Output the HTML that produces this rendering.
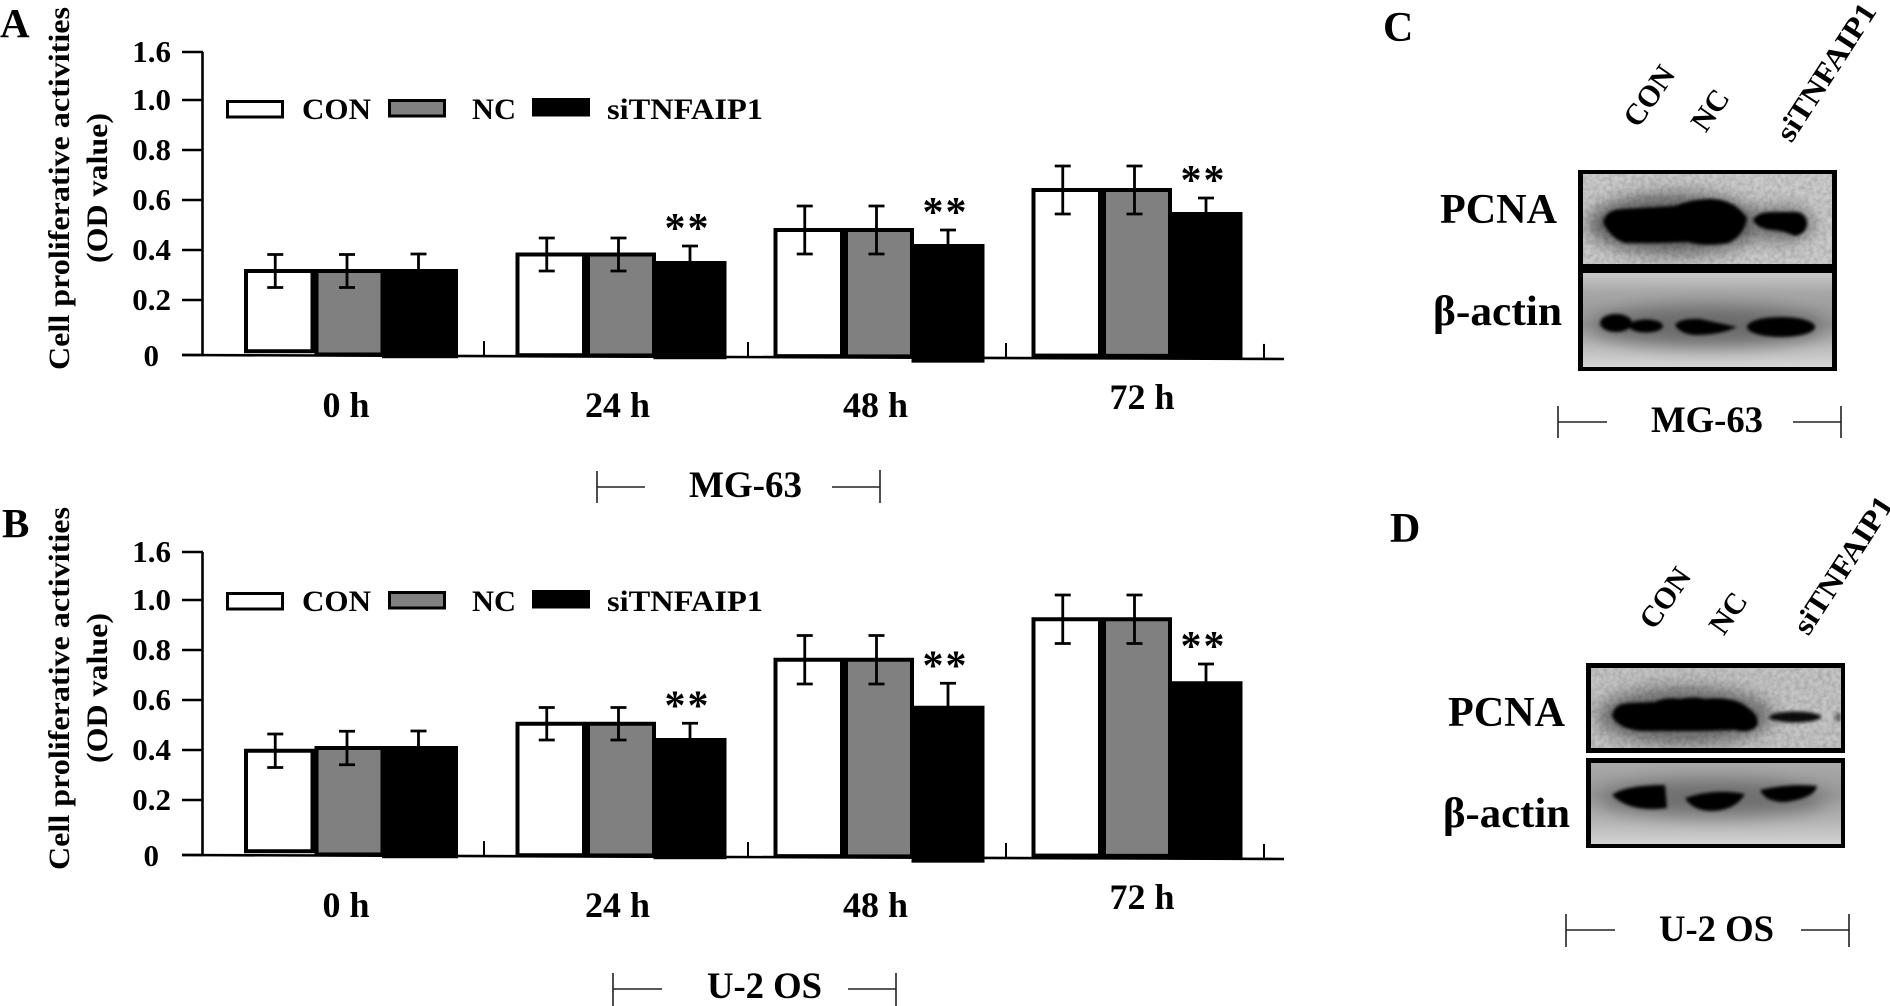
<!DOCTYPE html>
<html lang="en">
<head>
<meta charset="utf-8">
<title>Cell proliferative activities and PCNA western blots</title>
<style>
html,body{margin:0;padding:0;background:#fff;}
body{width:1890px;height:1006px;overflow:hidden;}
svg{display:block;}
text{font-family:"Liberation Serif",serif;font-weight:bold;fill:#000;}
</style>
</head>
<body>
<svg id="figure" xmlns="http://www.w3.org/2000/svg" width="1890" height="1006" viewBox="0 0 1890 1006">
  <defs>
    <filter id="b2" x="-30%" y="-60%" width="160%" height="220%"><feGaussianBlur stdDeviation="1.6"/></filter>
    <filter id="b8" x="-40%" y="-100%" width="180%" height="300%"><feGaussianBlur stdDeviation="9"/></filter>
    <filter id="grain" x="0" y="0" width="100%" height="100%">
      <feTurbulence type="fractalNoise" baseFrequency="0.22" numOctaves="2" seed="4"/>
      <feColorMatrix type="matrix" values="0 0 0 0 0  0 0 0 0 0  0 0 0 0 0  0.9 0 0 0 -0.3"/>
    </filter>
    <linearGradient id="gradC" x1="0" y1="0" x2="0" y2="1">
      <stop offset="0" stop-color="#c8c8c8"/><stop offset="0.2" stop-color="#a8a8a8"/><stop offset="0.55" stop-color="#949494"/><stop offset="0.8" stop-color="#bdbdbd"/><stop offset="1" stop-color="#d6d6d6"/>
    </linearGradient>
    <linearGradient id="gradD" x1="0" y1="0" x2="0" y2="1">
      <stop offset="0" stop-color="#aaaaaa"/><stop offset="0.4" stop-color="#989898"/><stop offset="0.75" stop-color="#b8b8b8"/><stop offset="1" stop-color="#d2d2d2"/>
    </linearGradient>
    <clipPath id="clipC1"><rect x="1583" y="174" width="249" height="90"/></clipPath>
    <clipPath id="clipC2"><rect x="1583" y="273" width="249" height="94"/></clipPath>
    <clipPath id="clipD1"><rect x="1591" y="668" width="250" height="80"/></clipPath>
    <clipPath id="clipD2"><rect x="1591" y="763" width="250" height="81"/></clipPath>
  </defs>

  <g id="chart-a"></g>
  <g id="chart-b"></g>

  <text x="0" y="37" font-size="41">A</text>
  <text x="2" y="537" font-size="41">B</text>
  <text x="1383" y="41" font-size="42">C</text>
  <text x="1390" y="542" font-size="42">D</text>

  <g stroke="#222" stroke-width="1.6" fill="none">
    <path d="M597 471V503M597 487H645M880 470V503M832 487H880"/>
  </g>
  <text x="689" y="497" font-size="37" textLength="113" lengthAdjust="spacingAndGlyphs">MG-63</text>
  <g stroke="#222" stroke-width="1.6" fill="none">
    <path d="M613 973V1006M613 989H662M896 973V1006M848 989H896"/>
  </g>
  <text x="707" y="998" font-size="37" textLength="115" lengthAdjust="spacingAndGlyphs">U-2 OS</text>

  <!-- Panel C -->
  <g>
    <text transform="translate(1649 96) rotate(-55)" y="10" text-anchor="middle" font-size="30">CON</text>
    <text transform="translate(1710 110) rotate(-55)" y="10" text-anchor="middle" font-size="30">NC</text>
    <text transform="translate(1826 72) rotate(-57)" y="10" text-anchor="middle" font-size="30" textLength="158" lengthAdjust="spacingAndGlyphs">siTNFAIP1</text>
    <rect x="1578" y="170" width="259" height="201" fill="#000"/>
    <g clip-path="url(#clipC1)">
      <rect x="1583" y="174" width="249" height="90" fill="#cbcbcb"/>
      <ellipse cx="1675" cy="224" rx="88" ry="30" fill="#5e5e5e" filter="url(#b8)"/>
      <ellipse cx="1782" cy="224" rx="32" ry="17" fill="#6e6e6e" filter="url(#b8)"/>
      <path d="M1603 222 Q1606 209 1624 209 L1675 206 Q1692 199 1712 199 Q1735 200 1747 218 Q1744 236 1728 243 Q1705 247 1688 242 L1660 243 L1625 243 Q1610 238 1603 222Z" fill="#000" filter="url(#b2)"/>
      <path d="M1753 220 Q1757 212 1772 212 L1798 212 Q1807 215 1807 224 Q1806 234 1795 236 Q1782 230 1770 230 Q1757 228 1753 220Z" fill="#000" filter="url(#b2)"/>
      <rect x="1583" y="174" width="249" height="90" filter="url(#grain)" opacity="0.3"/>
    </g>
    <g clip-path="url(#clipC2)">
      <rect x="1583" y="273" width="249" height="94" fill="url(#gradC)"/>
      <ellipse cx="1708" cy="326" rx="118" ry="20" fill="#6a6a6a" filter="url(#b8)"/>
      <g filter="url(#b2)" fill="#050505">
        <ellipse cx="1616" cy="323" rx="16" ry="9"/>
        <ellipse cx="1646" cy="326" rx="17" ry="6.5"/>
        <path d="M1675 325 Q1680 318 1700 319 L1737 327 Q1720 335 1695 335 Q1680 334 1675 325Z"/>
        <ellipse cx="1781" cy="327" rx="34" ry="10"/>
      </g>
    </g>
    <text x="1440" y="223" font-size="42" textLength="117" lengthAdjust="spacingAndGlyphs">PCNA</text>
    <text x="1433" y="325" font-size="42" textLength="129" lengthAdjust="spacingAndGlyphs">β-actin</text>
    <path d="M1558 406V438M1558 422H1607M1841 406V438M1793 422H1841" stroke="#222" stroke-width="1.6" fill="none"/>
    <text x="1651" y="432" font-size="37" textLength="112" lengthAdjust="spacingAndGlyphs">MG-63</text>
  </g>

  <!-- Panel D -->
  <g>
    <text transform="translate(1665 598) rotate(-55)" y="10" text-anchor="middle" font-size="30">CON</text>
    <text transform="translate(1728 613) rotate(-55)" y="10" text-anchor="middle" font-size="30">NC</text>
    <text transform="translate(1843 565) rotate(-57)" y="10" text-anchor="middle" font-size="30" textLength="158" lengthAdjust="spacingAndGlyphs">siTNFAIP1</text>
    <rect x="1586" y="663" width="259" height="90" fill="#000"/>
    <rect x="1586" y="758" width="259" height="90" fill="#000"/>
    <g clip-path="url(#clipD1)">
      <rect x="1591" y="668" width="250" height="80" fill="#c4c4c4"/>
      <ellipse cx="1685" cy="716" rx="88" ry="28" fill="#666666" filter="url(#b8)"/>
      <path d="M1612 716 Q1614 703 1630 703 L1655 702 Q1665 697 1680 699 Q1695 696 1705 699 Q1735 696 1748 708 Q1760 716 1757 726 Q1750 734 1735 730 L1700 731 L1650 731 Q1620 732 1612 716Z" fill="#000" filter="url(#b2)"/>
      <ellipse cx="1795" cy="717" rx="26" ry="5.5" fill="#0a0a0a" filter="url(#b2)"/>
      <ellipse cx="1838" cy="717" rx="3" ry="5" fill="#666" filter="url(#b2)"/>
      <rect x="1591" y="668" width="250" height="80" filter="url(#grain)" opacity="0.3"/>
    </g>
    <g clip-path="url(#clipD2)">
      <rect x="1591" y="763" width="250" height="81" fill="url(#gradD)"/>
      <ellipse cx="1712" cy="798" rx="115" ry="18" fill="#6e6e6e" filter="url(#b8)"/>
      <g filter="url(#b2)" fill="#050505">
        <path d="M1612 795 Q1625 785 1665 785 L1667 808 Q1630 813 1612 795Z"/>
        <path d="M1685 798 Q1715 788 1745 794 Q1735 811 1710 811 Q1692 810 1685 798Z"/>
        <path d="M1760 790 Q1790 783 1817 786 Q1815 798 1785 802 Q1765 802 1760 790Z"/>
      </g>
    </g>
    <text x="1448" y="726" font-size="42" textLength="117" lengthAdjust="spacingAndGlyphs">PCNA</text>
    <text x="1443" y="827" font-size="42" textLength="127" lengthAdjust="spacingAndGlyphs">β-actin</text>
    <path d="M1566 914V947M1566 930H1615M1849 914V947M1801 930H1849" stroke="#222" stroke-width="1.6" fill="none"/>
    <text x="1659" y="941" font-size="37" textLength="115" lengthAdjust="spacingAndGlyphs">U-2 OS</text>
  </g>
</svg>

<script>
// Shared chart data
const categories = ['0 h', '24 h', '48 h', '72 h'];
const seriesNames = ['CON', 'NC', 'siTNFAIP1'];
const yTickValues = [0, 0.2, 0.4, 0.6, 0.8, 1.0, 1.6];
const yTickLabels = ['0', '0.2', '0.4', '0.6', '0.8', '1.0', '1.6'];
const significant = [false, true, true, true];

// Panel A (MG-63)
const conA = [0.324, 0.39, 0.488, 0.648];
const ncA = [0.324, 0.39, 0.488, 0.648];
const siA = [0.324, 0.356, 0.424, 0.552];
const conErrA = [0.066, 0.066, 0.096, 0.096];
const ncErrA = [0.066, 0.066, 0.096, 0.096];
const siErrA = [0.06, 0.06, 0.056, 0.056];

// Panel B (U-2 OS)
const conB = [0.405, 0.513, 0.769, 0.931];
const ncB = [0.416, 0.513, 0.769, 0.931];
const siB = [0.416, 0.448, 0.577, 0.675];
const conErrB = [0.067, 0.065, 0.097, 0.097];
const ncErrB = [0.067, 0.065, 0.097, 0.097];
const siErrB = [0.06, 0.059, 0.09, 0.069];

const NS = 'http://www.w3.org/2000/svg';

// Broken y axis: 0-0.2 is stretched, 0.2-1.0 linear, 1.0-1.6 compressed
function yScale(v) {
  if (v <= 0.2) return 355 - (v / 0.2) * 55;
  if (v <= 1.0) return 300 - ((v - 0.2) / 0.2) * 50;
  return 100 - ((v - 1.0) / 0.6) * 48;
}
// Error-bar half length in pixels (drawn at the linear segment's scale)
function errLen(e) { return e * 250; }
function baseline(x) { return 355 + (x - 182) * 4 / 1100; }
function groupLeft(i) { return 515.5 + 258 * (i - 1) - (i === 0 ? 13.5 : 0); }
function groupTick(i) { return 490 + 258 * i - (i === 0 ? 6 : 0); }
// The scanned bars sit slightly unevenly on the axis
function barBottom(x, s, i) {
  let b = baseline(x) + (s === 2 ? 2.5 : 1);
  if (i === 0 && s === 0) b -= 3;
  if (i === 2 && s === 2) b += 2.5;
  if (i === 3) b -= 1.5;
  return b;
}
const barLeftOffset = [0, 70.5, 138];
const barWidth = [70.5, 70, 73];
const errOffset = [-4, -2.5, 0];
const errCentreDrop = [2, 2, 0];

function node(parent, tag, attrs, txt) {
  const el = document.createElementNS(NS, tag);
  for (const k in attrs) el.setAttribute(k, attrs[k]);
  if (txt !== undefined) el.textContent = txt;
  parent.appendChild(el);
  return el;
}

function drawChart(rootId, dy, legendDy, series, errors) {
  const root = document.getElementById(rootId);
  const g = node(root, 'g', { transform: 'translate(0 ' + dy + ')' });
  const fills = ['#ffffff', '#808080', '#000000'];

  // bars
  series.forEach(function (vals, s) {
    vals.forEach(function (v, i) {
      const left = groupLeft(i) + barLeftOffset[s];
      const w = barWidth[s] + (i === 0 && s === 2 ? 3 : 0);
      const top = yScale(v);
      const bottom = barBottom(left, s, i);
      const bar = node(g, 'rect', { x: left + 2, y: top + 2, width: w - 4, height: bottom - top - 4, fill: fills[s], stroke: '#000', 'stroke-width': 4 });
      
      
    });
  });

  // error bars
  series.forEach(function (vals, s) {
    vals.forEach(function (v, i) {
      const cx = groupLeft(i) + barLeftOffset[s] + barWidth[s] / 2 + errOffset[s];
      const centre = yScale(v) + errCentreDrop[s];
      const hi = centre - errLen(errors[s][i]);
      const lo = centre + errLen(errors[s][i]);
      const eb = node(g, 'path', { d: 'M' + (cx - 8) + ' ' + hi + 'H' + (cx + 8) + 'M' + cx + ' ' + hi + 'V' + lo + 'M' + (cx - 8) + ' ' + lo + 'H' + (cx + 8), fill: 'none', stroke: '#000', 'stroke-width': 2.8 });
      
      
    });
  });

  // significance stars
  significant.forEach(function (flag, i) {
    if (!flag) return;
    const cx = groupLeft(i) + barLeftOffset[2] + barWidth[2] / 2 - 2.5;
    const top = yScale(series[2][i]) - errLen(errors[2][i]);
    const st = node(g, 'text', { x: cx, y: top - 4, 'text-anchor': 'middle', 'font-size': 42, 'letter-spacing': 2 }, '**');
    
    
  });

  // y axis
  const yAxis = node(g, 'line', { x1: 202.5, x2: 202.5, y1: yScale(1.6), y2: baseline(202), stroke: '#000', 'stroke-width': 2.6 });
  
  
  yTickValues.forEach(function (v, i) {
    const y = yScale(v);
    const t = node(g, 'line', { x1: 182, x2: 203, y1: y, y2: y, stroke: '#000', 'stroke-width': 2.6 });
    
    
    const isZero = v === 0;
    const lb = node(g, 'text', { x: isZero ? 159 : 171, y: y + (isZero ? 11 : 10), 'text-anchor': 'end', 'font-size': 31 }, yTickLabels[i]);
    
    
  });

  // x axis
  const xAxis = node(g, 'line', { x1: 182, y1: baseline(182), x2: 1284, y2: baseline(1284), stroke: '#000', 'stroke-width': 2.6 });
  
  
  categories.forEach(function (c, i) {
    const tx = groupTick(i);
    const t = node(g, 'line', { x1: tx, x2: tx, y1: baseline(tx) - 15, y2: baseline(tx) + 1, stroke: '#000', 'stroke-width': 2 });
    
    
    const last = i === categories.length - 1;
    const lb = node(g, 'text', { x: groupLeft(i) + (last ? 110.5 : 102), y: last ? 409 : 417, 'text-anchor': 'middle', 'font-size': 36 }, c);
    
    
  });

  // axis title
  const t1 = node(g, 'text', { transform: 'translate(69 188.5) rotate(-90)', 'text-anchor': 'middle', 'font-size': 30, textLength: 363, lengthAdjust: 'spacingAndGlyphs' }, 'Cell proliferative activities');
  
  
  const t2 = node(g, 'text', { transform: 'translate(107 188) rotate(-90)', 'text-anchor': 'middle', 'font-size': 30, textLength: 150, lengthAdjust: 'spacingAndGlyphs' }, '(OD value)');
  
  

  // legend
  const boxLeft = [226, 388, 532];
  const boxTop = [100, 99, 98];
  const textLeft = [302, 472, 607];
  const textLen = [69, 44, 156];
  seriesNames.forEach(function (n, s) {
    const box = node(g, 'rect', { x: boxLeft[s] + 1.5, y: boxTop[s] + legendDy + 1.5, width: 55, height: 15.5, fill: fills[s], stroke: '#000', 'stroke-width': 3 });
    
    
    const lb = node(g, 'text', { x: textLeft[s], y: 119 + legendDy, 'font-size': 30, textLength: textLen[s], lengthAdjust: 'spacingAndGlyphs' }, n);
    
    
  });
}

drawChart('chart-a', 0, 0, [conA, ncA, siA], [conErrA, ncErrA, siErrA]);
drawChart('chart-b', 500, -8, [conB, ncB, siB], [conErrB, ncErrB, siErrB]);
</script>
</body>
</html>
